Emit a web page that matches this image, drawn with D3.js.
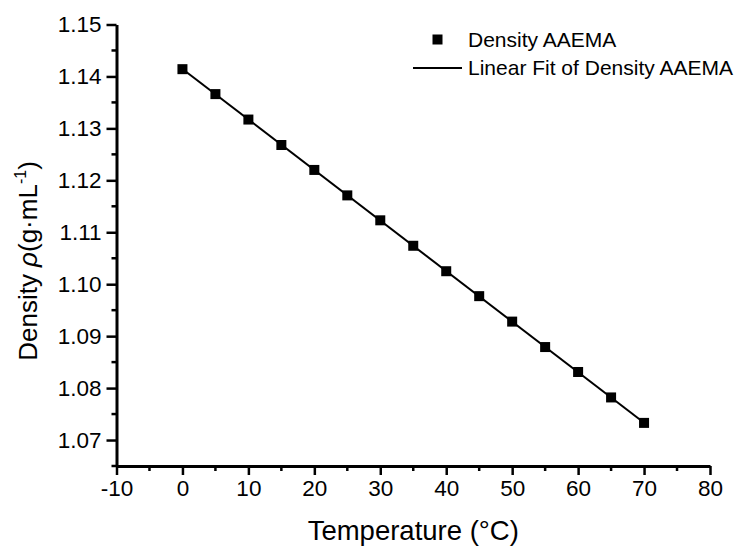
<!DOCTYPE html>
<html>
<head>
<meta charset="utf-8">
<script src="https://cdn.jsdelivr.net/npm/d3@7"></script>
<style>
  html, body { margin: 0; padding: 0; background: #fff; }
  svg { display: block; font-family: Arial, "Liberation Sans", sans-serif; }
</style>
</head>
<body>
<svg id="chart" width="742" height="548"></svg>
<script>
// Temperature (°C) and measured density (g/mL)
const temperature = [0, 5, 10, 15, 20, 25, 30, 35, 40, 45, 50, 55, 60, 65, 70];
const density = [1.1414, 1.1366, 1.1317, 1.1268, 1.1220, 1.1171, 1.1123, 1.1074,
                 1.1025, 1.0977, 1.0928, 1.0879, 1.0831, 1.0782, 1.0733];
const xTickValues = [-10, 0, 10, 20, 30, 40, 50, 60, 70, 80];
const yTickValues = [1.07, 1.08, 1.09, 1.10, 1.11, 1.12, 1.13, 1.14, 1.15];
const legendLabels = ["Density AAEMA", "Linear Fit of Density AAEMA"];

const svg = d3.select("#chart");
const x = d3.scaleLinear().domain([-10, 80]).range([116.5, 710]);
const y = d3.scaleLinear().domain([1.065, 1.15]).range([466, 24.5]);

// least-squares line through the measured points
const mx = d3.mean(temperature), my = d3.mean(density);
const slope = d3.sum(temperature, (t, i) => (t - mx) * (density[i] - my)) /
              d3.sum(temperature, t => (t - mx) * (t - mx));
const intercept = my - slope * mx;
const fitX = [d3.min(temperature), d3.max(temperature)];

// axes
const xMinor = d3.range(-5, 80, 10);
const yMinor = d3.range(0, 9).map(i => +(1.065 + i * 0.01).toFixed(3));
const tickFont = 22.5;

const xAxis = svg.append("g").attr("transform", `translate(0,${y.range()[0]})`)
  .call(d3.axisBottom(x).tickValues(xTickValues).tickFormat(d => String(d))
        .tickSizeInner(9).tickSizeOuter(0).tickPadding(5));
xAxis.selectAll(".tick text").attr("font-size", tickFont).attr("fill", "#000")
  .attr("font-family", "Arial, 'Liberation Sans', sans-serif");
xAxis.append("g").selectAll("line").data(xMinor).join("line")
  .attr("x1", d => x(d)).attr("x2", d => x(d)).attr("y1", 0).attr("y2", 5)
  .attr("stroke", "#000").attr("stroke-width", 2.5);

const yAxis = svg.append("g").attr("transform", `translate(${x.range()[0]},0)`)
  .call(d3.axisLeft(y).tickValues(yTickValues).tickFormat(d3.format(".2f"))
        .tickSizeInner(10).tickSizeOuter(0).tickPadding(5));
yAxis.selectAll(".tick text").attr("font-size", tickFont).attr("fill", "#000")
  .attr("font-family", "Arial, 'Liberation Sans', sans-serif");
yAxis.append("g").selectAll("line").data(yMinor).join("line")
  .attr("x1", 0).attr("x2", -5).attr("y1", d => y(d)).attr("y2", d => y(d))
  .attr("stroke", "#000").attr("stroke-width", 2.5);

svg.selectAll(".domain").attr("stroke", "#000").attr("stroke-width", 3);
svg.selectAll(".tick line").attr("stroke", "#000").attr("stroke-width", 2.5);

// fit line
svg.append("line")
  .attr("x1", x(fitX[0])).attr("y1", y(intercept + slope * fitX[0]))
  .attr("x2", x(fitX[1])).attr("y2", y(intercept + slope * fitX[1]))
  .attr("stroke", "#000").attr("stroke-width", 2);

// data squares
const sq = 10;
svg.append("g").selectAll("rect").data(temperature).join("rect")
  .attr("x", d => x(d) - sq / 2)
  .attr("y", (d, i) => y(density[i]) - sq / 2)
  .attr("width", sq).attr("height", sq).attr("fill", "#000");

// axis titles
svg.append("text").attr("x", (x.range()[0] + x.range()[1]) / 2).attr("y", 540)
  .attr("text-anchor", "middle").attr("font-size", 27.5).attr("fill", "#000")
  .text("Temperature (°C)");

const yt = svg.append("text").attr("transform", "translate(37,261) rotate(-90)")
  .attr("text-anchor", "middle").attr("font-size", 26).attr("fill", "#000");
yt.append("tspan").text("Density ");
yt.append("tspan").attr("font-style", "italic").text("ρ");
yt.append("tspan").text("(g·mL");
yt.append("tspan").attr("font-size", 16).attr("dy", -11).text("-1");
yt.append("tspan").attr("dy", 11).text(")");

// legend
const lg = svg.append("g");
lg.append("rect").attr("x", 437.5 - sq / 2).attr("y", 39.5 - sq / 2)
  .attr("width", sq).attr("height", sq).attr("fill", "#000");
lg.append("line").attr("x1", 413).attr("x2", 462).attr("y1", 68).attr("y2", 68)
  .attr("stroke", "#000").attr("stroke-width", 2);
lg.selectAll("text").data(legendLabels).join("text")
  .attr("x", 468).attr("y", (d, i) => 46.5 + i * 28.5)
  .attr("font-size", 21).attr("fill", "#000").text(d => d);
</script>
</body>
</html>
